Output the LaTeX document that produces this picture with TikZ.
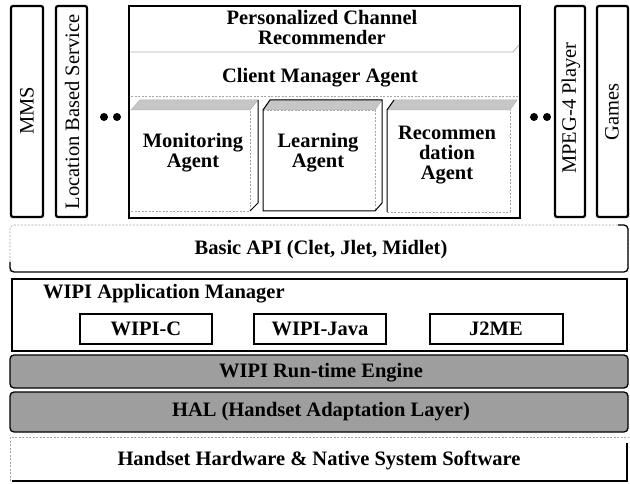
\documentclass[tikz,border=0pt]{standalone}
\usepackage{fontspec}
\setmainfont{Liberation Serif}
\begin{document}
\begin{tikzpicture}[x=1pt,y=-1pt,
  lbl/.style={font=\fontsize{20.5}{20}\selectfont\bfseries, align=center, inner sep=0pt},
  vlbl/.style={font=\fontsize{20.5}{20}\selectfont, rotate=90, inner sep=0pt},
  colbox/.style={draw, line width=2.2pt, rounded corners=2pt},
  solidedge/.style={draw, line width=1.3pt},
  faint/.style={draw=gray!70, line width=0.6pt, dash pattern=on 2pt off 1.5pt},
  topface/.style={fill=gray!45, draw=gray!60, line width=0.5pt},
  shaded/.style={draw, fill=black!38, line width=1.3pt, rounded corners=4pt},
  dot/.style={fill=black}]
\useasboundingbox (0,0) rectangle (630,484);

% left application columns
\draw[colbox] (11,6) rectangle (43,217);
\node[vlbl] (mms) at (27,111) {MMS};
\draw[colbox] (56,6) rectangle (87,217);
\node[vlbl] (lbs) at (72,112) {Location Based Service};
\fill[dot] (104,117) circle (4);
\fill[dot] (117,117) circle (4);

% Personalized channel recommender
\draw[line width=1.8pt] (129,6) rectangle (520,218);
\node[lbl] (pcr) at (322,27) {Personalized Channel\\Recommender};
\draw[gray!65, line width=0.8pt] (131,52) -- (513,52) -- (519,45);
\node[lbl] (cma) at (320,78) {Client Manager Agent};
\draw[faint] (131,96) -- (518,96);

% Monitoring agent cube
\path[topface] (131,110) -- (140,100) -- (258,100) -- (250,110) -- cycle;
\draw[faint] (131,211) -- (250,211) -- (250,110);
\draw[line width=1pt] (258,100) -- (258,203) -- (250,211);
\node[lbl] (mon) at (193,153) {Monitoring\\Agent};

% Learning agent cube
\path[topface] (263,110) -- (270,100) -- (382,100) -- (375,110) -- cycle;
\draw[faint] (263,110) -- (375,110) -- (375,211);
\draw[line width=1pt] (263,211) -- (263,110) -- (270,100) -- (382,100) -- (382,203) -- (375,211) -- cycle;
\node[lbl] (lrn) at (318,153) {Learning\\Agent};

% Recommendation agent cube
\path[topface] (387,110) -- (394,100) -- (517,100) -- (510,110) -- cycle;
\draw[faint] (387,212) -- (510,212) -- (510,110);
\draw[line width=1pt] (387,212) -- (387,110) -- (394,100);
\node[lbl] (rec) at (447,155) {Recommen\\dation\\Agent};

% right application columns
\fill[dot] (534,117) circle (4);
\fill[dot] (547,117) circle (4);
\draw[colbox] (555,6) rectangle (585,217);
\node[vlbl] (mpeg) at (571,108) {MPEG-4 Player};
\draw[colbox] (597,6) rectangle (628,217);
\node[vlbl] (games) at (612,112) {Games};

% Basic API
\draw[faint, rounded corners=4pt] (10,272) -- (10,225) -- (628,225) -- (628,272);
\draw[line width=1.3pt, rounded corners=4pt] (10,262) -- (10,272) -- (628,272) -- (628,225) -- (618,225);
\node[lbl] (api) at (321,250) {Basic API (Clet, Jlet, Midlet)};

% WIPI application manager
\draw[solidedge] (12,279) rectangle (627,351);
\node[lbl, anchor=west] (wam) at (43,294) {WIPI Application Manager};
\draw[solidedge] (80,314) rectangle (212,344);
\node[lbl] (wc) at (146,329) {WIPI-C};
\draw[solidedge] (254,314) rectangle (386,344);
\node[lbl] (wj) at (320,329) {WIPI-Java};
\draw[solidedge] (430,314) rectangle (563,344);
\node[lbl] (j2me) at (496,329) {J2ME};

% shaded layers
\path[shaded] (10,355) rectangle (628,388);
\node[lbl] (rte) at (321,373) {WIPI Run-time Engine};
\path[shaded] (10,392) rectangle (628,432);
\node[lbl] (hal) at (321,412) {HAL (Handset Adaptation Layer)};

% Handset hardware
\draw[faint] (10,481) -- (10,437) -- (628,437);
\draw[solidedge] (12,481) -- (627,481) -- (627,443);
\node[lbl] (hw) at (319,460) {Handset Hardware \& Native System Software};
\end{tikzpicture}
\end{document}
